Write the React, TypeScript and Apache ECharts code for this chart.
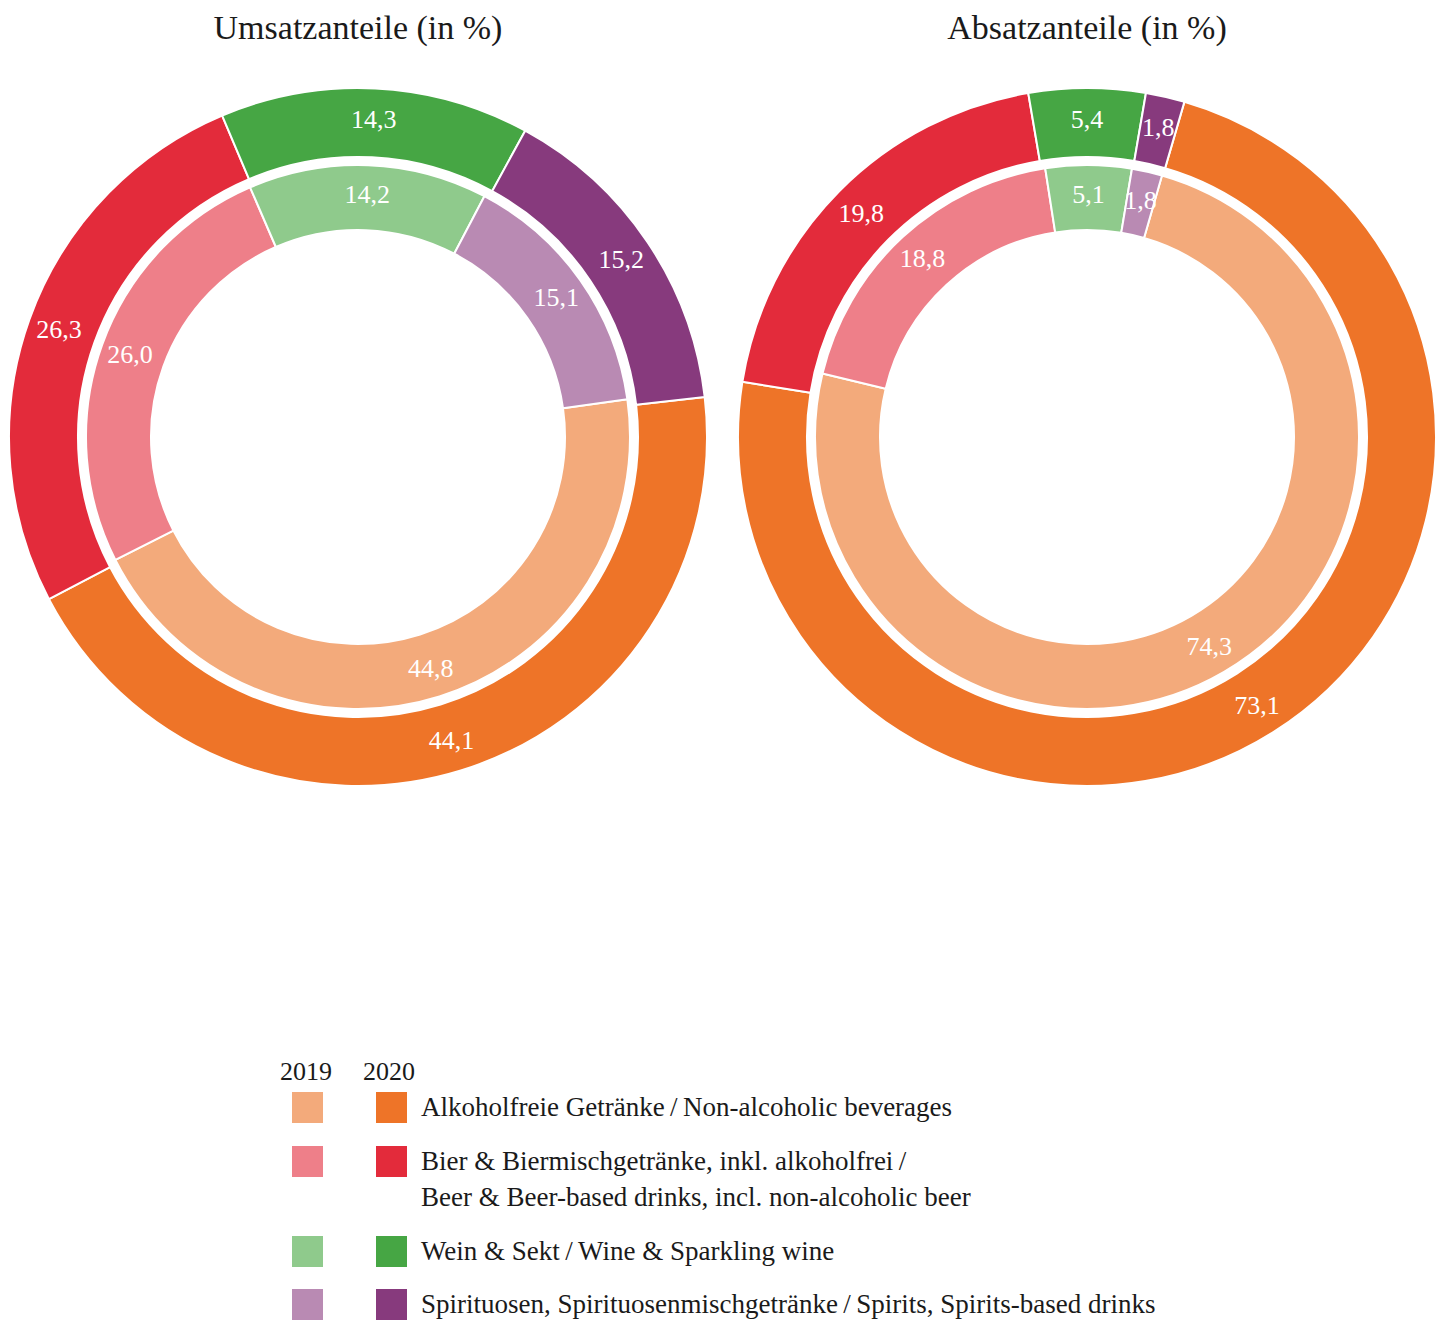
import React, { useEffect, useRef } from "react";
import * as echarts from "echarts";

const TS = "\u2009/\u2009";
const categories = [
  "Alkoholfreie Getränke" + TS + "Non-alcoholic beverages",
  "Bier & Biermischgetränke, inkl. alkoholfrei" + "\u2009/" + "\nBeer & Beer-based drinks, incl. non-alcoholic beer",
  "Wein & Sekt" + TS + "Wine & Sparkling wine",
  "Spirituosen, Spirituosenmischgetränke" + TS + "Spirits, Spirits-based drinks",
];
const colors2019 = ["#F3AA7B", "#EE7F89", "#8FCA8C", "#B98AB3"];
const colors2020 = ["#EE7428", "#E32B3B", "#46A644", "#873A7D"];
const umsatz2019 = [44.8, 26.0, 14.2, 15.1];
const umsatz2020 = [44.1, 26.3, 14.3, 15.2];
const absatz2019 = [74.3, 18.8, 5.1, 1.8];
const absatz2020 = [73.1, 19.8, 5.4, 1.8];
const titles = ["Umsatzanteile (in %)", "Absatzanteile (in %)"];
const years = ["2019", "2020"];

const FONT = "'Liberation Serif', 'DejaVu Serif', serif";

function fmt(v: number) {
  return v.toFixed(1).replace(".", ",");
}

function ring(
  name: string,
  values: number[],
  cols: string[],
  center: [number, number],
  radius: [number, number],
  startAngle: number
) {
  return {
    type: "pie",
    name,
    center,
    radius,
    startAngle,
    clockwise: true,
    silent: true,
    avoidLabelOverlap: false,
    itemStyle: { borderColor: "#ffffff", borderWidth: 2 },
    label: {
      show: true,
      position: "inside",
      color: "#ffffff",
      fontFamily: FONT,
      fontSize: 26,
      formatter: (p: any) => fmt(p.value),
    },
    labelLine: { show: false },
    data: values.map((v, i) => ({
      name: categories[i],
      value: v,
      itemStyle: { color: cols[i] },
    })),
  };
}

export default function App() {
  const ref = useRef<HTMLDivElement>(null);
  useEffect(() => {
    document.body.style.margin = "0";
    if (!ref.current) return;
    const chart = echarts.init(ref.current, undefined, { renderer: "svg" });

    const leftC: [number, number] = [358, 437];
    const rightC: [number, number] = [1087, 437];
    const inner: [number, number] = [207, 272];
    const outer: [number, number] = [280, 349];

    const rowY = [1107, 1161, 1251, 1304];
    const txt = (s: string, x: number, y: number, size: number) => ({
      type: "text",
      x,
      y,
      style: {
        text: s,
        align: "center",
        verticalAlign: "middle",
        fontFamily: FONT,
        fontSize: size,
        fill: "#1a1a1a",
      },
    });
    const graphics: any[] = [
      txt(titles[0], 358, 27, 34),
      txt(titles[1], 1087, 27, 34),
      txt(years[0], 306, 1071, 26),
      txt(years[1], 389, 1071, 26),
    ];
    categories.forEach((c, i) => {
      graphics.push({
        type: "rect",
        shape: { x: 292, y: rowY[i] - 15, width: 31, height: 31 },
        style: { fill: colors2019[i] },
      });
      graphics.push({
        type: "rect",
        shape: { x: 376, y: rowY[i] - 15, width: 31, height: 31 },
        style: { fill: colors2020[i] },
      });
      graphics.push({
        type: "text",
        x: 421,
        y: rowY[i] - 18,
        style: {
          text: c,
          fontFamily: FONT,
          fontSize: 27,
          lineHeight: 36,
          fill: "#1a1a1a",
          verticalAlign: "top",
        },
      });
    });

    chart.setOption({
      animation: false,
      backgroundColor: "#ffffff",
      series: [
        ring("Umsatz 2020", umsatz2020, colors2020, leftC, outer, 6.6),
        ring("Umsatz 2019", umsatz2019, colors2019, leftC, inner, 8),
        ring("Absatz 2020", absatz2020, colors2020, rightC, outer, 73.8),
        ring("Absatz 2019", absatz2019, colors2019, rightC, inner, 74),
      ],
      graphic: graphics,
    });
    return () => chart.dispose();
  }, []);
  return <div ref={ref} style={{ width: 1445, height: 1321 }} />;
}
